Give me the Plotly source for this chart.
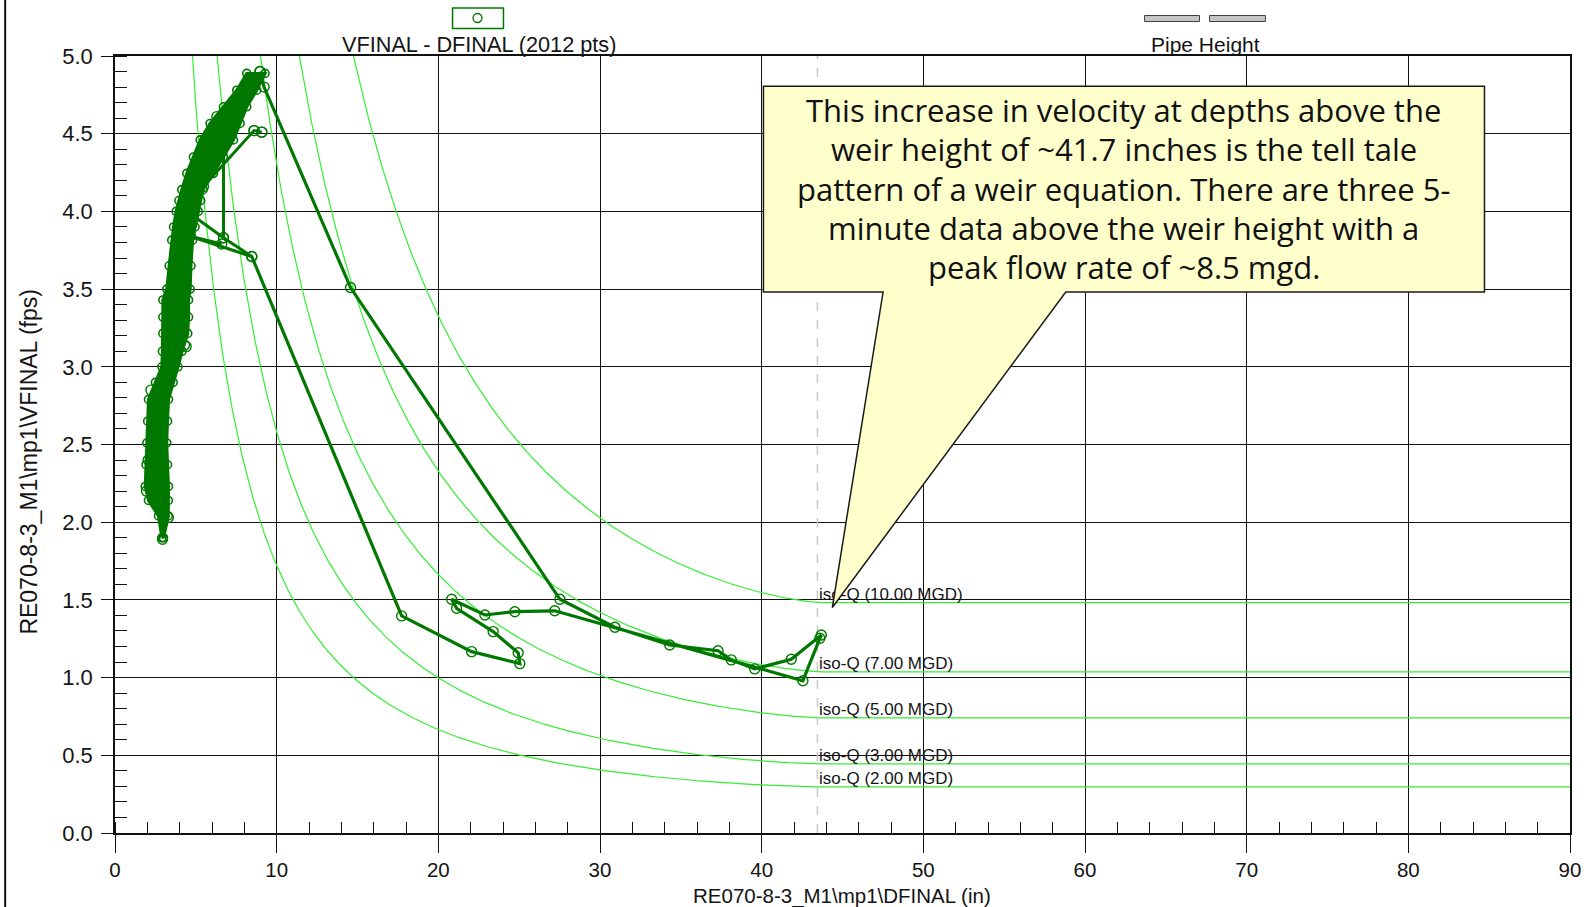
import numpy as np
import plotly.graph_objects as go

# ---------------- data ----------------
# dense cluster of the 2012 points: band edges (velocity level, left depth, right depth)
band_y = [1.90, 2.04, 2.14, 2.23, 2.37, 2.51, 2.65, 2.79, 2.90, 3.00, 3.10, 3.215, 3.32, 3.43,
          3.50, 3.65, 3.815, 3.90, 4.00, 4.07, 4.14, 4.245, 4.35, 4.46, 4.566, 4.673, 4.78, 4.888]
band_left = [2.90, 2.69, 2.07, 1.87, 1.92, 1.97, 2.02, 2.07, 2.50, 2.90, 2.93, 2.96, 2.96, 2.96,
             3.20, 3.35, 3.51, 3.62, 3.78, 3.95, 4.13, 4.44, 4.85, 5.27, 5.88, 6.71, 7.53, 8.15]
band_right = [3.00, 3.30, 3.30, 3.31, 3.25, 3.20, 3.25, 3.31, 3.60, 3.90, 4.15, 4.50, 4.55, 4.55,
              4.65, 4.70, 4.80, 4.95, 5.15, 5.30, 5.45, 6.09, 6.70, 7.33, 7.74, 8.15, 8.77, 9.28]

# isolated points around the cluster
outlier_x = [2.22, 4.40, 6.30, 2.94, 8.97, 9.08, 8.60, 4.30, 3.30, 2.05, 1.95, 4.10, 5.00, 5.60, 7.20, 8.30]
outlier_y = [2.85, 3.13, 4.61, 1.89, 4.90, 4.51, 4.52, 3.14, 2.03, 2.40, 2.20, 3.60, 4.22, 4.40, 4.66, 4.84]

# branches inside the cluster
branch_x = [9.08, 8.60, 5.47, None, 6.71, 6.71, None, 4.85, 6.71, 8.46, None, 4.65, 6.60]
branch_y = [4.51, 4.52, 4.16, None, 4.63, 3.83, None, 3.97, 3.83, 3.71, None, 3.84, 3.79]

# the surcharge excursion
excursion_x = [8.97, 9.22, 14.57, 27.52, 30.92, 34.31, 37.30, 38.12, 39.57, 41.83, 43.69, 43.60,
               42.55, 27.20, 24.73, 22.88, 20.82, 21.13, 23.39, 24.94, 25.04, 22.06, 17.73, 8.46, 4.65]
excursion_y = [4.90, 4.80, 3.51, 1.504, 1.324, 1.21, 1.173, 1.114, 1.056, 1.118, 1.274, 1.253,
               0.98, 1.43, 1.424, 1.403, 1.504, 1.446, 1.296, 1.16, 1.09, 1.167, 1.397, 3.71, 3.84]

# iso-Q reference curves
iso_q_mgd = [10.0, 7.0, 5.0, 3.0, 2.0]
iso_q_labels = ["iso-Q (10.00 MGD)", "iso-Q (7.00 MGD)", "iso-Q (5.00 MGD)",
                "iso-Q (3.00 MGD)", "iso-Q (2.00 MGD)"]
iso_q_diameter_in = 43.75
pipe_height_in = 43.45

x_tick_vals = [0, 10, 20, 30, 40, 50, 60, 70, 80, 90]
y_tick_vals = [0.0, 0.5, 1.0, 1.5, 2.0, 2.5, 3.0, 3.5, 4.0, 4.5, 5.0]

annotation_lines = [
    "This increase in velocity at depths above the",
    "weir height of ~41.7 inches is the tell tale",
    "pattern of a weir equation. There are three 5-",
    "minute data above the weir height with a",
    "peak flow rate of ~8.5 mgd.",
]

# ---------------- styling ----------------
W, H = 1593, 907
ML, MR, MT, MB = 115, 21, 56, 74
PW, PH = W - ML - MR, H - MT - MB
DG = "#007800"
LIME = "#33ee33"
FONT = "Liberation Sans, Arial, sans-serif"
TXT = "#141414"


def px2paper(px, py):
    return (px - ML) / PW, (H - MB - py) / PH


def flow_area_ft2(d_in, dia_in):
    d = np.minimum(d_in, dia_in)
    theta = 2 * np.arccos(1 - 2 * d / dia_in)
    r = dia_in / 2
    return r * r * (theta - np.sin(theta)) / 2 / 144.0


fig = go.Figure()

depth = np.concatenate([np.linspace(0.3, iso_q_diameter_in, 700), np.linspace(iso_q_diameter_in, 90, 60)])
area = flow_area_ft2(depth, iso_q_diameter_in)
label_y = []
for q in iso_q_mgd:
    v = q * 1.5472 / area
    label_y.append(v[-1] + 0.045)
    fig.add_trace(go.Scatter(x=depth, y=v, mode="lines", line=dict(color=LIME, width=1.2),
                             hoverinfo="skip", showlegend=False))

# pipe height
fig.add_trace(go.Scatter(x=[pipe_height_in, pipe_height_in], y=[0, 5], mode="lines",
                         line=dict(color="#c8c8c8", width=1.5, dash="dash"), showlegend=False))

# cluster fill
fig.add_trace(go.Scatter(x=band_left + band_right[::-1], y=band_y + band_y[::-1], mode="lines",
                         fill="toself", fillcolor=DG, line=dict(color=DG, width=3), showlegend=False))

zx, zy = [], []
for i, yv in enumerate(band_y):
    if i % 2 == 0:
        zx += [band_left[i], band_right[i]]
    else:
        zx += [band_right[i], band_left[i]]
    zy += [yv, yv]
mk = dict(symbol="circle-open", size=10, color=DG, line=dict(width=1.4, color=DG))
mk_small = dict(symbol="circle-open", size=8, color=DG, line=dict(width=1.6, color=DG))
fig.add_trace(go.Scatter(x=zx, y=zy, mode="lines+markers", line=dict(color=DG, width=2),
                         marker=mk_small, showlegend=False))
fig.add_trace(go.Scatter(x=outlier_x, y=outlier_y, mode="markers", marker=mk, showlegend=False))
fig.add_trace(go.Scatter(x=branch_x, y=branch_y, mode="lines+markers", line=dict(color=DG, width=3),
                         marker=mk, showlegend=False))
fig.add_trace(go.Scatter(x=excursion_x, y=excursion_y, mode="lines+markers",
                         line=dict(color=DG, width=3.2), marker=mk, showlegend=False))

# iso-Q labels (as a trace so the callout covers them)
fig.add_trace(go.Scatter(x=[43.55] * len(iso_q_labels), y=label_y, mode="text", text=iso_q_labels,
                         textposition="middle right", textfont=dict(family=FONT, size=17, color=TXT),
                         showlegend=False, cliponaxis=False))

# ---------------- callout ----------------
bx0, bx1, by0, by1 = 40.11, 84.71, 4.806, 3.481
t0, t1, tip = 47.51, 58.81, (44.37, 1.451)
path = (f"M {bx0},{by0} L {bx1},{by0} L {bx1},{by1} L {t1},{by1} L {tip[0]},{tip[1]} "
        f"L {t0},{by1} L {bx0},{by1} Z")
shapes = [dict(type="path", path=path, xref="x", yref="y", fillcolor="#FFFFCC",
               line=dict(color="#1a1a1a", width=1.5), layer="above")]

annotations = []
line_y = [4.654, 4.399, 4.144, 3.895, 3.641]
for txt, yy in zip(annotation_lines, line_y):
    annotations.append(dict(x=(bx0 + bx1) / 2, y=yy, xref="x", yref="y", text=txt, showarrow=False,
                            xanchor="center", yanchor="middle",
                            font=dict(family="Open Sans, Noto Sans, sans-serif", size=31, color="#111")))

# ---------------- top legend ----------------
lx0, ly0 = px2paper(453, 8)
lx1, ly1 = px2paper(504, 28.5)
shapes.append(dict(type="rect", xref="paper", yref="paper", x0=lx0, x1=lx1, y0=ly1, y1=ly0,
                   line=dict(color=DG, width=1.5), fillcolor="white"))
cx0, cy0 = px2paper(473.5, 13.5)
cx1, cy1 = px2paper(482.5, 22.5)
shapes.append(dict(type="circle", xref="paper", yref="paper", x0=cx0, x1=cx1, y0=cy1, y1=cy0,
                   line=dict(color=DG, width=1.3)))
for a, b in [(1146, 1201), (1211, 1267)]:
    px0, py0 = px2paper(a, 15.5)
    px1, py1 = px2paper(b, 21.5)
    shapes.append(dict(type="rect", xref="paper", yref="paper", x0=px0, x1=px1, y0=py1, y1=py0,
                       line=dict(color="#404040", width=1), fillcolor="#c4c4c4"))


def ptext(px, py, text, angle=0, size=21):
    x, y = px2paper(px, py)
    return dict(x=x, y=y, xref="paper", yref="paper", text=text, showarrow=False, textangle=angle,
                xanchor="center", yanchor="middle", font=dict(family=FONT, size=size, color=TXT))


annotations.append(ptext(480, 44, "VFINAL - DFINAL (2012 pts)", size=21.7))
annotations.append(ptext(1207, 44, "Pipe Height"))
annotations.append(ptext(843, 896, "RE070-8-3_M1\\mp1\\DFINAL (in)", size=20.5))
annotations.append(ptext(28.5, 462, "RE070-8-3_M1\\mp1\\VFINAL (fps)", angle=-90, size=23))

# outer frame line at left edge
fx, _ = px2paper(5, 0)
shapes.append(dict(type="line", xref="paper", yref="paper", x0=fx, x1=fx, y0=-0.2, y1=1.2,
                   line=dict(color="#111", width=2)))

fig.update_layout(
    width=W, height=H, margin=dict(l=ML, r=MR, t=MT, b=MB),
    paper_bgcolor="white", plot_bgcolor="white",
    shapes=shapes, annotations=annotations, showlegend=False,
    font=dict(family=FONT, size=21, color=TXT),
    xaxis=dict(range=[0, 90], tickvals=x_tick_vals, ticktext=[str(v) for v in x_tick_vals],
               showgrid=True, gridcolor="#111", gridwidth=1.2, zeroline=False,
               showline=True, linecolor="#111", linewidth=1.5, mirror=True,
               ticks="outside", ticklen=18, tickwidth=1.2, tickcolor="#111",
               minor=dict(ticks="inside", ticklen=11, dtick=2, tickwidth=1.2, tickcolor="#111", showgrid=False),
               tickfont=dict(family=FONT, size=20.5, color=TXT)),
    yaxis=dict(range=[0, 5], tickvals=y_tick_vals, ticktext=[f"{v:.1f}" for v in y_tick_vals],
               showgrid=True, gridcolor="#111", gridwidth=1.2, zeroline=False,
               showline=True, linecolor="#111", linewidth=1.5, mirror=True,
               ticks="outside", ticklen=12, tickwidth=1.2, tickcolor="#111", ticklabelstandoff=4,
               minor=dict(ticks="inside", ticklen=12, dtick=0.1, tickwidth=1.2, tickcolor="#111", showgrid=False),
               tickfont=dict(family=FONT, size=22, color=TXT)),
)

fig.write_html("out.html")
